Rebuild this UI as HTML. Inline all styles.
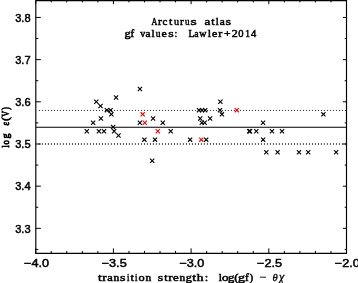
<!DOCTYPE html>
<html><head><meta charset="utf-8"><style>
html,body{margin:0;padding:0;background:#fff;width:358px;height:283px;overflow:hidden}
svg{display:block}
.sn{font-family:"Liberation Sans",sans-serif;font-size:11.6px;stroke:#000;stroke-width:0.5px}
.sf{font-family:"Liberation Serif",serif;font-size:11.8px;stroke:#000;stroke-width:0.55px}
.s1{font-family:"Liberation Serif",serif;font-size:10.8px;stroke:#000;stroke-width:0.5px}
.s2{font-family:"Liberation Serif",serif;font-size:10.4px;stroke:#000;stroke-width:0.5px}
.s3{font-family:"Liberation Serif",serif;font-size:11.2px;stroke:#000;stroke-width:0.85px}
.gk{font-family:"Liberation Serif",serif;font-size:11.8px;font-style:italic;stroke:#000;stroke-width:0.35px}
.tx{filter:grayscale(1)}
</style></head><body>
<svg width="358" height="283" viewBox="0 0 358 283">
<rect width="358" height="283" fill="#fff"/>
<path d="M35.8,0.6H346.5V253.4H35.8Z" fill="none" stroke="#000" stroke-width="1.15"/>
<path d="M35.70,253.4v-5.0M35.70,0.6v3.6M51.24,253.4v-2.5M51.24,0.6v1.8M66.78,253.4v-2.5M66.78,0.6v1.8M82.32,253.4v-2.5M82.32,0.6v1.8M97.86,253.4v-2.5M97.86,0.6v1.8M113.40,253.4v-5.0M113.40,0.6v3.6M128.94,253.4v-2.5M128.94,0.6v1.8M144.48,253.4v-2.5M144.48,0.6v1.8M160.02,253.4v-2.5M160.02,0.6v1.8M175.56,253.4v-2.5M175.56,0.6v1.8M191.10,253.4v-5.0M191.10,0.6v3.6M206.64,253.4v-2.5M206.64,0.6v1.8M222.18,253.4v-2.5M222.18,0.6v1.8M237.72,253.4v-2.5M237.72,0.6v1.8M253.26,253.4v-2.5M253.26,0.6v1.8M268.80,253.4v-5.0M268.80,0.6v3.6M284.34,253.4v-2.5M284.34,0.6v1.8M299.88,253.4v-2.5M299.88,0.6v1.8M315.42,253.4v-2.5M315.42,0.6v1.8M330.96,253.4v-2.5M330.96,0.6v1.8M346.50,253.4v-5.0M346.50,0.6v3.6M35.8,249.44h2.5M346.5,249.44h-1.8M35.8,228.35h5.0M346.5,228.35h-3.6M35.8,207.26h2.5M346.5,207.26h-1.8M35.8,186.17h5.0M346.5,186.17h-3.6M35.8,165.08h2.5M346.5,165.08h-1.8M35.8,143.99h5.0M346.5,143.99h-3.6M35.8,122.90h2.5M346.5,122.90h-1.8M35.8,101.81h5.0M346.5,101.81h-3.6M35.8,80.72h2.5M346.5,80.72h-1.8M35.8,59.63h5.0M346.5,59.63h-3.6M35.8,38.54h2.5M346.5,38.54h-1.8M35.8,17.45h5.0M346.5,17.45h-3.6" fill="none" stroke="#000" stroke-width="1.0"/>
<path d="M35.8,127.30H346.5" stroke="#000" stroke-width="1.1"/>
<path d="M38.9,110.45H346" stroke="#333" stroke-width="1.0" stroke-dasharray="1.1 1.9"/>
<path d="M38.9,144.0H346" stroke="#333" stroke-width="1.3" stroke-dasharray="1.1 1.9"/>
<path d="M94.20,99.61l4.2,4.2M98.40,103.83l4.2,4.2M114.00,95.40l4.2,4.2M104.80,108.04l4.2,4.2M108.50,108.04l4.2,4.2M109.30,112.26l4.2,4.2M98.80,116.47l4.2,4.2M91.00,120.69l4.2,4.2M84.70,129.12l4.2,4.2M96.80,129.12l4.2,4.2M101.90,129.12l4.2,4.2M111.00,124.90l4.2,4.2M112.00,129.12l4.2,4.2M116.40,133.33l4.2,4.2M137.80,86.97l4.2,4.2M137.80,120.69l4.2,4.2M151.00,116.47l4.2,4.2M160.70,120.69l4.2,4.2M168.60,129.12l4.2,4.2M142.30,137.55l4.2,4.2M152.90,137.55l4.2,4.2M150.10,158.62l4.2,4.2M188.00,137.55l4.2,4.2M204.10,137.55l4.2,4.2M196.90,108.04l4.2,4.2M199.90,108.04l4.2,4.2M203.10,108.04l4.2,4.2M198.10,116.47l4.2,4.2M208.00,116.47l4.2,4.2M199.70,120.69l4.2,4.2M202.60,120.69l4.2,4.2M218.30,99.61l4.2,4.2M217.90,108.04l4.2,4.2M219.80,112.26l4.2,4.2M247.10,129.12l4.2,4.2M247.90,129.12l4.2,4.2M254.20,129.12l4.2,4.2M261.00,120.69l4.2,4.2M261.00,137.55l4.2,4.2M269.90,129.12l4.2,4.2M279.90,129.12l4.2,4.2M264.20,150.19l4.2,4.2M275.50,150.19l4.2,4.2M296.90,150.19l4.2,4.2M306.10,150.19l4.2,4.2M334.00,150.19l4.2,4.2M321.30,112.26l4.2,4.2" fill="none" stroke="#000" stroke-width="1.1"/>
<path d="M94.20,103.81l4.2,-4.2M98.40,108.03l4.2,-4.2M114.00,99.60l4.2,-4.2M104.80,112.24l4.2,-4.2M108.50,112.24l4.2,-4.2M109.30,116.46l4.2,-4.2M98.80,120.67l4.2,-4.2M91.00,124.89l4.2,-4.2M84.70,133.32l4.2,-4.2M96.80,133.32l4.2,-4.2M101.90,133.32l4.2,-4.2M111.00,129.10l4.2,-4.2M112.00,133.32l4.2,-4.2M116.40,137.53l4.2,-4.2M137.80,91.17l4.2,-4.2M137.80,124.89l4.2,-4.2M151.00,120.67l4.2,-4.2M160.70,124.89l4.2,-4.2M168.60,133.32l4.2,-4.2M142.30,141.75l4.2,-4.2M152.90,141.75l4.2,-4.2M150.10,162.82l4.2,-4.2M188.00,141.75l4.2,-4.2M204.10,141.75l4.2,-4.2M196.90,112.24l4.2,-4.2M199.90,112.24l4.2,-4.2M203.10,112.24l4.2,-4.2M198.10,120.67l4.2,-4.2M208.00,120.67l4.2,-4.2M199.70,124.89l4.2,-4.2M202.60,124.89l4.2,-4.2M218.30,103.81l4.2,-4.2M217.90,112.24l4.2,-4.2M219.80,116.46l4.2,-4.2M247.10,133.32l4.2,-4.2M247.90,133.32l4.2,-4.2M254.20,133.32l4.2,-4.2M261.00,124.89l4.2,-4.2M261.00,141.75l4.2,-4.2M269.90,133.32l4.2,-4.2M279.90,133.32l4.2,-4.2M264.20,154.39l4.2,-4.2M275.50,154.39l4.2,-4.2M296.90,154.39l4.2,-4.2M306.10,154.39l4.2,-4.2M334.00,154.39l4.2,-4.2M321.30,116.46l4.2,-4.2" fill="none" stroke="#000" stroke-width="1.1"/>
<path d="M140.60,112.26l4.2,4.2M142.70,120.69l4.2,4.2M155.70,129.12l4.2,4.2M199.20,137.55l4.2,4.2M234.70,108.04l4.2,4.2" fill="none" stroke="#f00" stroke-width="1.1"/>
<path d="M140.60,116.46l4.2,-4.2M142.70,124.89l4.2,-4.2M155.70,133.32l4.2,-4.2M199.20,141.75l4.2,-4.2M234.70,112.24l4.2,-4.2" fill="none" stroke="#f00" stroke-width="1.1"/>
<g class="tx">
<text x="15.2" y="21.65" class="sn" textLength="15.4" lengthAdjust="spacingAndGlyphs">3.8</text>
<text x="15.2" y="63.83" class="sn" textLength="15.4" lengthAdjust="spacingAndGlyphs">3.7</text>
<text x="15.2" y="106.01" class="sn" textLength="15.4" lengthAdjust="spacingAndGlyphs">3.6</text>
<text x="15.2" y="148.19" class="sn" textLength="15.4" lengthAdjust="spacingAndGlyphs">3.5</text>
<text x="15.2" y="190.37" class="sn" textLength="15.4" lengthAdjust="spacingAndGlyphs">3.4</text>
<text x="15.2" y="232.55" class="sn" textLength="15.4" lengthAdjust="spacingAndGlyphs">3.3</text>
<text x="24.00" y="267.0" class="sn" textLength="25.0" lengthAdjust="spacingAndGlyphs">−4.0</text>
<text x="101.70" y="267.0" class="sn" textLength="25.0" lengthAdjust="spacingAndGlyphs">−3.5</text>
<text x="179.40" y="267.0" class="sn" textLength="25.0" lengthAdjust="spacingAndGlyphs">−3.0</text>
<text x="257.10" y="267.0" class="sn" textLength="25.0" lengthAdjust="spacingAndGlyphs">−2.5</text>
<text x="334.80" y="267.0" class="sn" textLength="25.0" lengthAdjust="spacingAndGlyphs">−2.0</text>
<text transform="translate(151.41,25.2) scale(0.752,1)" class="s1">A</text>
<text transform="translate(158.04,25.2) scale(1.083,1)" class="s1">r</text>
<text transform="translate(162.54,25.2) scale(1.011,1)" class="s1">c</text>
<text transform="translate(169.06,25.2) scale(1.110,1)" class="s1">t</text>
<text transform="translate(174.10,25.2) scale(0.933,1)" class="s1">u</text>
<text transform="translate(179.94,25.2) scale(1.057,1)" class="s1">r</text>
<text transform="translate(184.99,25.2) scale(0.843,1)" class="s1">u</text>
<text transform="translate(190.62,25.2) scale(1.473,1)" class="s1">s</text>
<text transform="translate(204.54,25.2) scale(1.196,1)" class="s1">a</text>
<text transform="translate(211.16,25.2) scale(1.110,1)" class="s1">t</text>
<text transform="translate(215.73,25.2) scale(1.010,1)" class="s1">l</text>
<text transform="translate(219.66,25.2) scale(1.049,1)" class="s1">a</text>
<text transform="translate(225.45,25.2) scale(1.318,1)" class="s1">s</text>
<text transform="translate(124.47,36.7) scale(1.167,1)" class="s2">g</text>
<text transform="translate(130.53,36.7) scale(1.070,1)" class="s2">f</text>
<text transform="translate(140.24,36.7) scale(0.965,1)" class="s2">v</text>
<text transform="translate(145.47,36.7) scale(1.085,1)" class="s2">a</text>
<text transform="translate(151.44,36.7) scale(1.076,1)" class="s2">l</text>
<text transform="translate(155.80,36.7) scale(0.910,1)" class="s2">u</text>
<text transform="translate(161.52,36.7) scale(1.150,1)" class="s2">e</text>
<text transform="translate(168.16,36.7) scale(1.335,1)" class="s2">s</text>
<text transform="translate(174.54,36.7) scale(0.986,1)" class="s2">:</text>
<text transform="translate(188.45,36.7) scale(0.928,1)" class="s2">L</text>
<text transform="translate(194.29,36.7) scale(0.933,1)" class="s2">a</text>
<text transform="translate(199.33,36.7) scale(0.955,1)" class="s2">w</text>
<text transform="translate(207.65,36.7) scale(1.144,1)" class="s2">l</text>
<text transform="translate(212.12,36.7) scale(1.150,1)" class="s2">e</text>
<text transform="translate(218.35,36.7) scale(1.174,1)" class="s2">r</text>
<text transform="translate(224.00,36.7) scale(1.124,1)" class="s2">+</text>
<text transform="translate(231.76,36.7) scale(1.157,1)" class="s2">2</text>
<text transform="translate(238.25,36.7) scale(1.019,1)" class="s2">0</text>
<text transform="translate(245.19,36.7) scale(0.913,1)" class="s2">1</text>
<text transform="translate(251.05,36.7) scale(1.012,1)" class="s2">4</text>
<text transform="translate(97.89,280.5) scale(1.302,1)" class="s2">t</text>
<text transform="translate(102.35,280.5) scale(1.256,1)" class="s2">r</text>
<text transform="translate(107.16,280.5) scale(1.194,1)" class="s2">a</text>
<text transform="translate(113.61,280.5) scale(1.112,1)" class="s2">n</text>
<text transform="translate(120.06,280.5) scale(1.335,1)" class="s2">s</text>
<text transform="translate(126.93,280.5) scale(0.841,1)" class="s2">i</text>
<text transform="translate(130.47,280.5) scale(1.178,1)" class="s2">t</text>
<text transform="translate(134.93,280.5) scale(0.841,1)" class="s2">i</text>
<text transform="translate(138.53,280.5) scale(1.182,1)" class="s2">o</text>
<text transform="translate(145.41,280.5) scale(1.094,1)" class="s2">n</text>
<text transform="translate(157.86,280.5) scale(1.335,1)" class="s2">s</text>
<text transform="translate(164.17,280.5) scale(1.147,1)" class="s2">t</text>
<text transform="translate(168.25,280.5) scale(1.256,1)" class="s2">r</text>
<text transform="translate(173.01,280.5) scale(1.242,1)" class="s2">e</text>
<text transform="translate(179.51,280.5) scale(1.094,1)" class="s2">n</text>
<text transform="translate(185.87,280.5) scale(1.167,1)" class="s2">g</text>
<text transform="translate(192.19,280.5) scale(1.302,1)" class="s2">t</text>
<text transform="translate(196.79,280.5) scale(1.300,1)" class="s2">h</text>
<text transform="translate(204.70,280.5) scale(1.218,1)" class="s2">:</text>
<text transform="translate(218.85,280.5) scale(1.110,1)" class="s2">l</text>
<text transform="translate(221.92,280.5) scale(1.263,1)" class="s2">o</text>
<text transform="translate(228.06,280.5) scale(1.207,1)" class="s2">g</text>
<text transform="translate(234.15,280.5) scale(1.230,1)" class="s2">(</text>
<text transform="translate(238.04,280.5) scale(1.345,1)" class="s2">g</text>
<text transform="translate(245.03,280.5) scale(1.070,1)" class="s2">f</text>
<text transform="translate(249.41,280.5) scale(1.072,1)" class="s2">)</text>
<text transform="translate(8.80,147.44) rotate(-90) scale(0.700,1)" class="s3">l</text>
<text transform="translate(8.80,144.50) rotate(-90) scale(0.768,1)" class="s3">o</text>
<text transform="translate(8.80,138.45) rotate(-90) scale(0.903,1)" class="s3">g</text>
<text transform="translate(8.80,125.61) rotate(-90) scale(0.750,1)" class="s3">ε</text>
<text transform="translate(8.80,120.76) rotate(-90) scale(0.912,1)" class="s3">(</text>
<text transform="translate(8.80,116.68) rotate(-90) scale(0.737,1)" class="s3">V</text>
<text transform="translate(8.80,109.66) rotate(-90) scale(0.700,1)" class="s3">)</text>
<path d="M259.8,277.2h6.2" stroke="#000" stroke-width="0.9"/>
<text x="272.6" y="280.8" class="gk" style="font-size:10.8px" textLength="5.2" lengthAdjust="spacingAndGlyphs">θ</text>
<text x="279.0" y="280.8" class="gk" style="font-size:12px">χ</text>
</g>
</svg>
</body></html>
